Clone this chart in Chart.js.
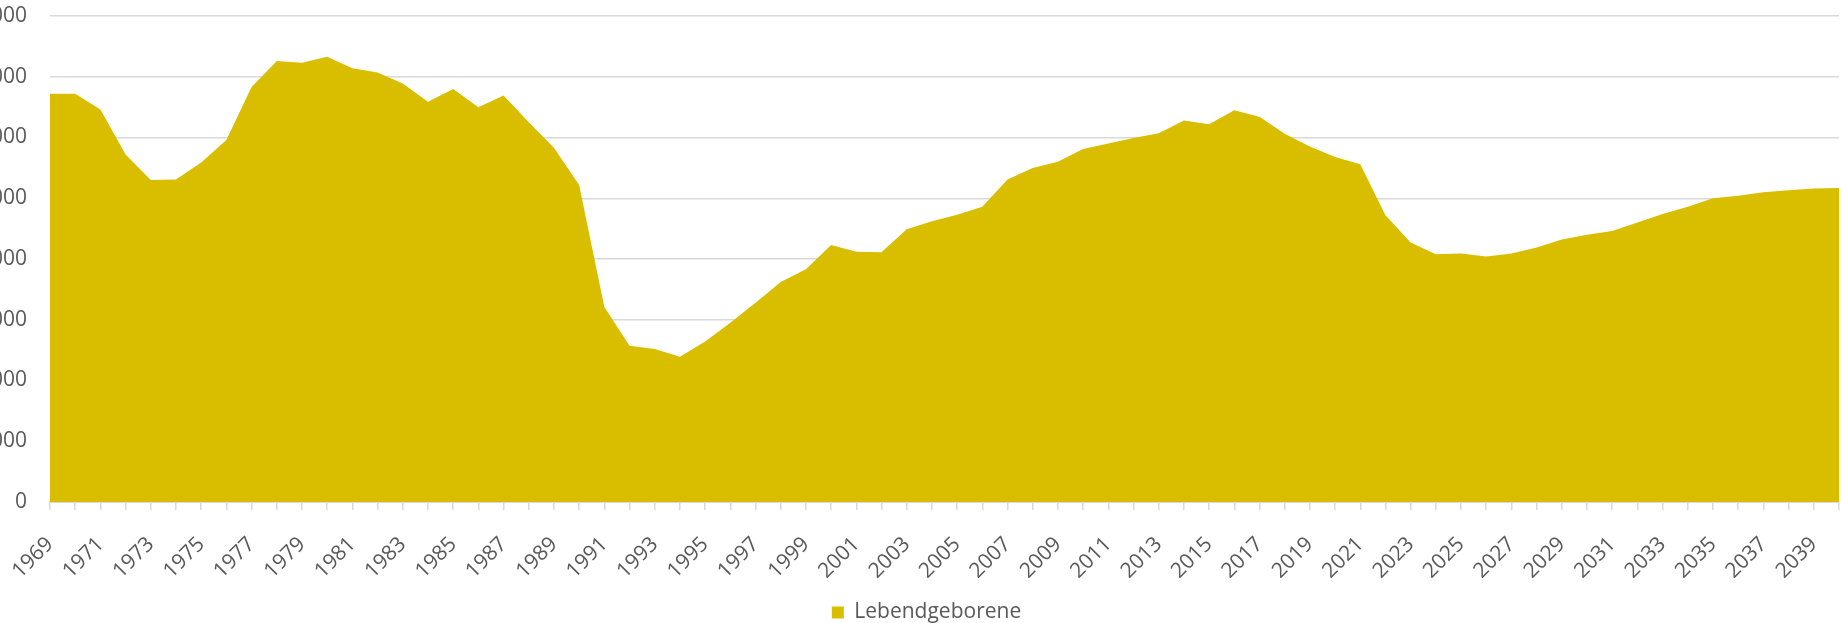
<!DOCTYPE html>
<html>
<head>
<meta charset="utf-8">
<script src="https://cdn.jsdelivr.net/npm/chart.js@4/dist/chart.umd.min.js"></script>
<style>
  html, body { margin: 0; padding: 0; background: #fff; }
  #wrap { position: relative; width: 1841px; height: 623px; overflow: hidden; }
  #myChart { position: absolute; left: -40px; top: 0; }
</style>
</head>
<body>
<div id="wrap"><canvas id="myChart" width="1881" height="623"></canvas></div>
<script>
// Jahre 1969 - 2040
const years = []
for (let y = 1969; y <= 2040; y++) years.push(String(y))

const births = [
  6720, 6720, 6460, 5720, 5300, 5310, 5590, 5960, 6830, 7260,
  7230, 7330, 7140, 7070, 6890, 6590, 6800, 6500, 6690, 6250,
  5830, 5220, 3210, 2570, 2520, 2390, 2640, 2950, 3280, 3620,
  3830, 4230, 4120, 4110, 4490, 4620, 4730, 4860, 5310, 5500,
  5600, 5810, 5900, 5990, 6070, 6280, 6220, 6450, 6340, 6060,
  5850, 5680, 5560, 4720, 4270, 4080, 4090, 4040, 4090, 4190,
  4320, 4400, 4460, 4600, 4740, 4860, 5000, 5040, 5100, 5130,
  5160, 5170
]

const yTicks = [0, 1000, 2000, 3000, 4000, 5000, 6000, 7000, 8000]

Chart.defaults.font.family = "'Open Sans', sans-serif"
Chart.defaults.color = '#595959'

// Legende etwas verschieben (wie im Original)
const legendShift = {
  id: 'legendShift',
  afterLayout(chart) {
    chart.legend.left += 27
    chart.legend.right += 27
    chart.legend.top += 10
    chart.legend.bottom += 10
  }
}

new Chart('myChart', {
  type: 'line',
  data: {
    labels: years,
    datasets: [{
      label: 'Lebendgeborene',
      data: births,
      fill: 'origin',
      backgroundColor: '#D9BE00',
      borderColor: '#D9BE00',
      borderWidth: 0,
      pointRadius: 0,
      tension: 0
    }]
  },
  options: {
    responsive: false,
    animation: false,
    layout: { padding: { top: 16, right: 2, bottom: 0, left: 0 } },
    scales: {
      x: {
        offset: false,
        grid: { drawOnChartArea: false, drawTicks: true, tickLength: 8, color: '#D9D9D9', lineWidth: 1.5 },
        border: { color: '#D9D9D9', width: 2 },
        ticks: {
          autoSkip: false,
          maxRotation: 45,
          minRotation: 45,
          padding: 22,
          font: { size: 21 },
          callback: function (val, i) { return i % 2 === 0 ? years[i] : '' }
        },
        afterFit: (scale) => {
          scale.height = 85
          scale.paddingLeft = 0
          scale.paddingRight = 0
        }
      },
      y: {
        min: 0,
        max: 8000,
        afterBuildTicks: (scale) => { scale.ticks = yTicks.map(v => ({ value: v })) },
        grid: { color: '#D9D9D9', lineWidth: 1.5, drawTicks: false },
        border: { display: false },
        ticks: {
          padding: 23,
          font: { size: 21 },
          callback: (v) => v.toLocaleString('de-DE')
        },
        afterFit: (scale) => {
          scale.width = 90
          scale.paddingTop = 0
          scale.paddingBottom = 0
        }
      }
    },
    plugins: {
      legend: {
        position: 'bottom',
        labels: { boxWidth: 12, boxHeight: 12, padding: 5, font: { size: 21 }, color: '#595959' }
      },
      tooltip: { enabled: false }
    }
  },
  plugins: [legendShift]
})
</script>
</body>
</html>
